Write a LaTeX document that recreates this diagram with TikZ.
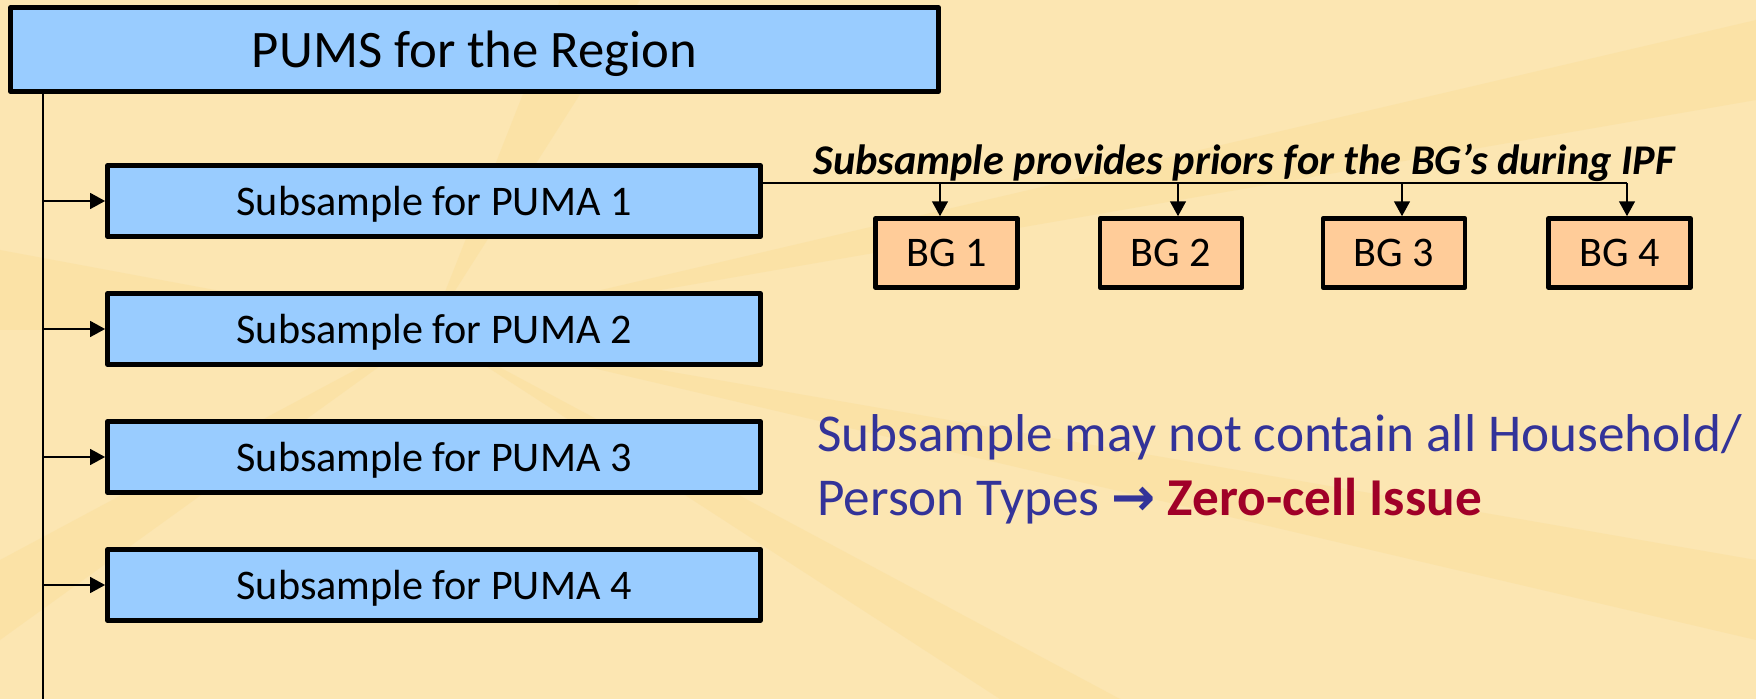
\documentclass[tikz,border=0pt]{standalone}
\usepackage{fontspec}
\setmainfont{Carlito}
\usetikzlibrary{arrows.meta}
\definecolor{paper}{RGB}{252,230,178}
\definecolor{raycol}{RGB}{249,218,140}
\definecolor{pumsblue}{RGB}{153,204,255}
\definecolor{bgorange}{RGB}{255,204,153}
\definecolor{noteblue}{RGB}{51,51,153}
\definecolor{issuered}{RGB}{160,0,40}

\begin{document}
\begin{tikzpicture}[line cap=round,line join=round,>={Triangle[length=8.5pt,width=9pt]},x=0.02cm,y=-0.02cm,
	pumsbox/.style={draw=black,line width=2.8pt,fill=pumsblue,inner sep=0pt,text depth=0pt,minimum width=18.56cm,minimum height=1.68cm,font=\fontsize{30}{36}\selectfont},
	pumabox/.style={draw=black,line width=2.8pt,fill=pumsblue,inner sep=0pt,text depth=0pt,minimum width=13.06cm,minimum height=1.42cm,font=\fontsize{24}{29}\selectfont},
	bgbox/.style={draw=black,line width=2.6pt,fill=bgorange,inner sep=0pt,minimum width=2.84cm,minimum height=1.38cm,font=\fontsize{24}{29}\selectfont},
	link/.style={line width=1.1pt,line cap=butt}]
		\useasboundingbox (0,0) rectangle (1756,699);
		\fill[paper] (0,0) rectangle (1756,699);
		\fill[raycol,opacity=0.3] (430,330) -- (0,250) -- (0,330) -- cycle;
		\fill[raycol,opacity=0.3] (430,330) -- (0,560) -- (0,640) -- cycle;
		\fill[raycol,opacity=0.3] (430,330) -- (560,0) -- (640,0) -- cycle;
		\fill[raycol,opacity=0.3] (430,330) -- (1756,560) -- (1756,640) -- cycle;
		\fill[raycol,opacity=0.3] (430,330) -- (1756,20) -- (1756,100) -- cycle;
		\fill[raycol,opacity=0.3] (430,330) -- (1000,699) -- (1120,699) -- cycle;
		\node[pumsbox] (pums) at (474.5,49.5) {PUMS for the Region};
		\node[pumabox] (puma1) at (434,201) {Subsample for PUMA 1};
		\node[pumabox] (puma2) at (434,329) {Subsample for PUMA 2};
		\node[pumabox] (puma3) at (434,457) {Subsample for PUMA 3};
		\node[pumabox] (puma4) at (434,585) {Subsample for PUMA 4};
		\node[bgbox] (bg1) at (946.5,253) {BG 1};
		\node[bgbox] (bg2) at (1171,253) {BG 2};
		\node[bgbox] (bg3) at (1394,253) {BG 3};
		\node[bgbox] (bg4) at (1619.5,253) {BG 4};
		\coordinate (trunk) at (43,699);
		\coordinate (bus) at (1627,183);
		\draw[link] (pums.south -| trunk) -- (trunk);
		\foreach \i in {1,...,4}
			\draw[link,->] (trunk |- puma\i.west) -- (puma\i.west);
		\draw[link] (puma1.east |- bus) -- (bus);
		\foreach \i/\dx in {1/-0.13,2/0.14,3/0.16,4/0.15}
			\draw[link,->] ([xshift=\dx cm]bg\i.north |- bus) -- ([xshift=\dx cm]bg\i.north);
		\node[anchor=base west,inner sep=0pt,font=\fontsize{24.1}{29}\selectfont\bfseries\itshape] (prior) at (813,175) {Subsample provides priors for the BG’s during IPF};
		\node[anchor=base west,inner sep=0pt,text=noteblue,font=\fontsize{30.3}{36}\selectfont] (note1) at (817,452) {Subsample may not contain all Household/};
		\node[anchor=base west,inner sep=0pt,text=noteblue,font=\fontsize{30.3}{36}\selectfont] (note2) at (817,515) {Person Types {\fontspec{DejaVu Sans}\bfseries\fontsize{30}{36}\selectfont→} \textcolor{issuered}{\bfseries Zero-cell Issue}};
	\end{tikzpicture}
\end{document}
